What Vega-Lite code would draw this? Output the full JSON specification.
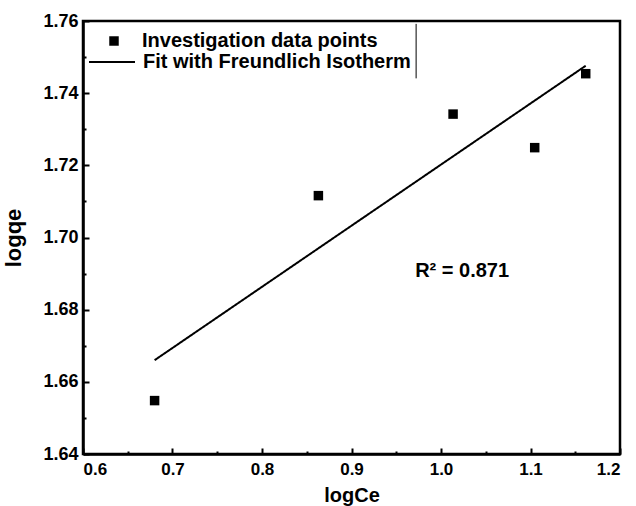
{
  "$schema": "https://vega.github.io/schema/vega-lite/v6.json",
  "width": 537,
  "height": 433,
  "autosize": {"type": "none"},
  "padding": {"left": 83, "top": 21, "right": 16, "bottom": 52},
  "background": "white",
  "config": {
    "font": "Liberation Sans",
    "view": {"stroke": "black", "strokeWidth": 2.5},
    "axis": {
      "domainColor": "black", "domainWidth": 2.5,
      "tickColor": "black", "tickWidth": 2,
      "labelColor": "black", "labelFont": "Liberation Sans", "labelFontWeight": "bold", "labelFontSize": 17,
      "titleColor": "black", "titleFont": "Liberation Sans", "titleFontWeight": "bold", "titleFontSize": 20,
      "grid": false, "zindex": 1
    },
    "legend": {
      "labelFont": "Liberation Sans", "labelFontSize": 20, "labelFontWeight": "bold", "labelColor": "black",
      "labelLimit": 500, "padding": 0, "title": null
    }
  },
  "datasets": {
    "points": [
      {"logCe": 0.680, "logqe": 1.6548, "series": "Investigation data points"},
      {"logCe": 0.863, "logqe": 1.7116, "series": "Investigation data points"},
      {"logCe": 1.0135, "logqe": 1.7342, "series": "Investigation data points"},
      {"logCe": 1.1047, "logqe": 1.7249, "series": "Investigation data points"},
      {"logCe": 1.1617, "logqe": 1.7454, "series": "Investigation data points"}
    ],
    "fit": [
      {"logCe": 0.680, "logqe": 1.6660, "series": "Fit with Freundlich Isotherm"},
      {"logCe": 1.1617, "logqe": 1.7476, "series": "Fit with Freundlich Isotherm"}
    ],
    "note": [
      {"logCe": 1.0236, "logqe": 1.6908, "label": "R² = 0.871"}
    ],
    "frame": [
      {"logCe": 0.9722, "top": 1.7592, "bottom": 1.7441}
    ]
  },
  "layer": [
    {
      "data": {"name": "points"},
      "mark": {"type": "point", "filled": true, "color": "black", "opacity": 1, "size": 90},
      "encoding": {
        "x": {
          "field": "logCe", "type": "quantitative",
          "scale": {"domain": [0.6, 1.2], "nice": false, "zero": false},
          "axis": {"values": [0.6, 0.7, 0.8, 0.9, 1.0, 1.1, 1.2], "format": ".1f", "ticks": false, "labelPadding": 7, "title": "logCe", "titlePadding": 8}
        },
        "y": {
          "field": "logqe", "type": "quantitative",
          "scale": {"domain": [1.64, 1.76], "nice": false, "zero": false},
          "axis": {"values": [1.64, 1.66, 1.68, 1.70, 1.72, 1.74, 1.76], "format": ".2f", "ticks": false, "labelPadding": 5, "labelFontSize": 18, "title": "logqe", "titleFontSize": 22, "titlePadding": 17}
        },
        "shape": {
          "field": "series", "type": "nominal",
          "scale": {"domain": ["Investigation data points"], "range": ["square"]},
          "legend": {"orient": "none", "legendX": 21, "legendY": 10, "symbolSize": 90, "labelOffset": 18, "symbolStrokeWidth": 0}
        }
      }
    },
    {
      "data": {"name": "fit"},
      "mark": {"type": "line", "color": "black", "strokeWidth": 2},
      "encoding": {
        "x": {
          "field": "logCe", "type": "quantitative",
          "scale": {"domain": [0.6, 1.2], "nice": false, "zero": false},
          "axis": {"orient": "bottom", "values": [0.6, 0.7, 0.8, 0.9, 1.0, 1.1, 1.2], "labels": false, "domain": false, "tickSize": 6, "offset": -6, "title": null}
        },
        "y": {
          "field": "logqe", "type": "quantitative",
          "scale": {"domain": [1.64, 1.76], "nice": false, "zero": false},
          "axis": {"orient": "left", "values": [1.64, 1.66, 1.68, 1.70, 1.72, 1.74, 1.76], "labels": false, "domain": false, "tickSize": 6, "offset": -6, "title": null}
        },
        "strokeDash": {
          "field": "series", "type": "nominal",
          "scale": {"domain": ["Fit with Freundlich Isotherm"], "range": [[1, 0]]},
          "legend": {"orient": "none", "legendX": 5, "legendY": 17, "symbolSize": 2116, "symbolStrokeWidth": 2, "symbolStrokeColor": "black", "labelOffset": 7}
        }
      }
    },
    {
      "data": {"name": "note"},
      "mark": {"type": "text", "font": "Liberation Sans", "fontWeight": "bold", "fontSize": 20, "color": "black", "align": "center", "baseline": "middle"},
      "encoding": {
        "x": {"field": "logCe", "type": "quantitative", "axis": null},
        "y": {"field": "logqe", "type": "quantitative", "axis": null},
        "text": {"field": "label"}
      }
    },
    {
      "data": {"name": "frame"},
      "mark": {"type": "rule", "color": "black", "strokeWidth": 1},
      "encoding": {
        "x": {
          "field": "logCe", "type": "quantitative",
          "axis": {"orient": "bottom", "values": [0.65, 0.75, 0.85, 0.95, 1.05, 1.15], "labels": false, "domain": false, "tickSize": 3, "offset": -3, "title": null}
        },
        "y": {
          "field": "top", "type": "quantitative",
          "axis": {"orient": "left", "values": [1.65, 1.67, 1.69, 1.71, 1.73, 1.75], "labels": false, "domain": false, "tickSize": 3, "offset": -3, "title": null}
        },
        "y2": {"field": "bottom"}
      }
    }
  ],
  "resolve": {"axis": {"x": "independent", "y": "independent"}}
}
